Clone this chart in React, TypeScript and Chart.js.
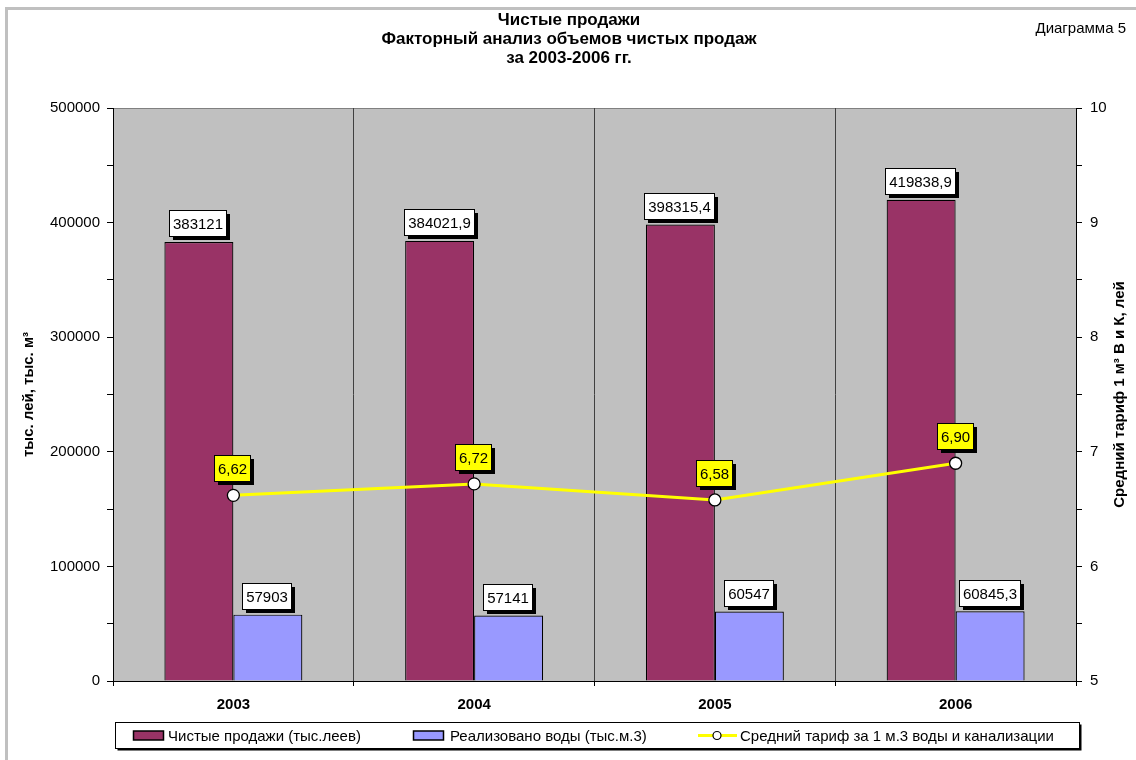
import React, { useEffect, useRef } from 'react';
import { Chart, registerables } from 'chart.js';

Chart.register(...registerables);

const years = ['2003', '2004', '2005', '2006'];
const netSales = [383121, 384021.9, 398315.4, 419838.9];
const waterSold = [57903, 57141, 60547, 60845.3];
const avgTariff = [6.62, 6.72, 6.58, 6.9];

const seriesNames = [
  'Чистые продажи (тыс.леев)',
  'Реализовано воды (тыс.м.3)',
  'Средний тариф за 1 м.3 воды и канализации',
];
const titleLines = [
  'Чистые продажи',
  'Факторный анализ объемов чистых продаж',
  'за 2003-2006 гг.',
];
const diagramLabel = 'Диаграмма 5';
const leftAxisTitle = 'тыс. лей, тыс. м³';
const rightAxisTitle = 'Средний тариф 1 м³ В и К, лей';

const leftMin = 0;
const leftMax = 500000;
const leftStep = 50000;
const leftLabelStep = 100000;
const rightMin = 5;
const rightMax = 10;
const rightStep = 0.5;

const FONT = '"Liberation Sans", Arial, Helvetica, sans-serif';
const PURPLE = '#993366';
const BLUE = '#9999FF';
const YELLOW = '#FFFF00';

function fmt(v: number, digits: number): string {
  if (digits === 0) {
    return Number.isInteger(v) ? String(v) : v.toFixed(1).replace('.', ',');
  }
  return v.toFixed(digits).replace('.', ',');
}

function drawBox(ctx: CanvasRenderingContext2D, text: string, cx: number, bottom: number, fill: string) {
  ctx.save();
  ctx.font = `15px ${FONT}`;
  const w = Math.round(ctx.measureText(text).width + 7);
  const h = 26;
  const x = Math.round(cx - w / 2 - 1) + 0.5;
  const y = Math.round(bottom - h) + 0.5;
  ctx.fillStyle = '#000';
  ctx.fillRect(x + 3.5, y + 3.5, w, h);
  ctx.fillStyle = fill;
  ctx.fillRect(x, y, w, h);
  ctx.strokeStyle = '#000';
  ctx.lineWidth = 1;
  ctx.strokeRect(x, y, w, h);
  ctx.fillStyle = '#000';
  ctx.textAlign = 'center';
  ctx.textBaseline = 'middle';
  ctx.fillText(text, x + w / 2, y + h / 2 + 1);
  ctx.restore();
}

const decorPlugin = {
  id: 'decor',
  beforeDraw(chart: any) {
    const ctx: CanvasRenderingContext2D = chart.ctx;
    const a = chart.chartArea;
    ctx.save();
    ctx.fillStyle = '#fff';
    ctx.fillRect(0, 0, chart.width, chart.height);
    // outer frame
    ctx.strokeStyle = '#c0c0c0';
    ctx.lineWidth = 3;
    ctx.strokeRect(6.5, 8.5, chart.width + 10, chart.height + 10);
    // plot area
    ctx.fillStyle = '#c0c0c0';
    ctx.fillRect(a.left, a.top, a.right - a.left, a.bottom - a.top);
    ctx.strokeStyle = '#808080';
    ctx.lineWidth = 1;
    ctx.beginPath();
    ctx.moveTo(a.left, Math.round(a.top) + 0.5);
    ctx.lineTo(a.right, Math.round(a.top) + 0.5);
    ctx.stroke();
    ctx.restore();
  },
  afterDraw(chart: any) {
    const ctx: CanvasRenderingContext2D = chart.ctx;
    const a = chart.chartArea;
    ctx.save();
    ctx.fillStyle = '#000';
    // title
    ctx.font = `bold 17px ${FONT}`;
    ctx.textAlign = 'center';
    ctx.textBaseline = 'middle';
    titleLines.forEach((t, i) => ctx.fillText(t, 569, 20 + i * 19));
    // diagram label
    ctx.font = `15px ${FONT}`;
    ctx.textAlign = 'right';
    ctx.fillText(diagramLabel, 1126, 29);
    // axis titles
    ctx.font = `bold 15px ${FONT}`;
    ctx.textAlign = 'center';
    ctx.save();
    ctx.translate(29, (a.top + a.bottom) / 2);
    ctx.rotate(-Math.PI / 2);
    ctx.fillText(leftAxisTitle, 0, 0);
    ctx.restore();
    ctx.save();
    ctx.translate(1120, (a.top + a.bottom) / 2);
    ctx.rotate(-Math.PI / 2);
    ctx.fillText(rightAxisTitle, 0, 0);
    ctx.restore();

    // legend
    const lx = 115.5, ly = 722.5, lw = 964, lh = 26;
    ctx.fillStyle = '#000';
    ctx.fillRect(lx + 2, ly + 2, lw, lh);
    ctx.fillStyle = '#fff';
    ctx.fillRect(lx, ly, lw, lh);
    ctx.strokeStyle = '#000';
    ctx.lineWidth = 1;
    ctx.strokeRect(lx, ly, lw, lh);
    const cy = ly + lh / 2;
    ctx.font = `15px ${FONT}`;
    ctx.textAlign = 'left';
    ctx.textBaseline = 'middle';
    const swatch = (x: number, color: string) => {
      ctx.fillStyle = color;
      ctx.fillRect(x + 0.5, cy - 4.5, 30, 9);
      ctx.strokeStyle = '#000';
      ctx.lineWidth = 1.5;
      ctx.strokeRect(x + 0.5, cy - 4.5, 30, 9);
    };
    swatch(133, PURPLE);
    ctx.fillStyle = '#000';
    ctx.fillText(seriesNames[0], 168, cy + 1);
    swatch(413, BLUE);
    ctx.fillStyle = '#000';
    ctx.fillText(seriesNames[1], 450, cy + 1);
    ctx.strokeStyle = YELLOW;
    ctx.lineWidth = 3;
    ctx.beginPath();
    ctx.moveTo(698, cy);
    ctx.lineTo(737, cy);
    ctx.stroke();
    ctx.beginPath();
    ctx.arc(717, cy, 4, 0, Math.PI * 2);
    ctx.fillStyle = '#fff';
    ctx.fill();
    ctx.strokeStyle = '#000';
    ctx.lineWidth = 1.2;
    ctx.stroke();
    ctx.fillStyle = '#000';
    ctx.fillText(seriesNames[2], 740, cy + 1);
    ctx.restore();
  },
  afterDatasetsDraw(chart: any) {
    const ctx: CanvasRenderingContext2D = chart.ctx;
    const m0 = chart.getDatasetMeta(0);
    const m1 = chart.getDatasetMeta(1);
    const m2 = chart.getDatasetMeta(2);
    m0.data.forEach((el: any, i: number) => drawBox(ctx, fmt(netSales[i], 0), el.x, el.y - 5.5, '#fff'));
    m1.data.forEach((el: any, i: number) => drawBox(ctx, fmt(waterSold[i], 0), el.x, el.y - 5.5, '#fff'));
    m2.data.forEach((el: any, i: number) => drawBox(ctx, fmt(avgTariff[i], 2), el.x, el.y - 14, YELLOW));
  },
};

export default function App() {
  const ref = useRef<HTMLCanvasElement | null>(null);
  useEffect(() => {
    if (!ref.current) return;
    const chart = new Chart(ref.current, {
      type: 'bar',
      data: {
        labels: years,
        datasets: [
          {
            type: 'bar',
            label: seriesNames[0],
            data: netSales,
            backgroundColor: PURPLE,
            borderColor: '#000',
            borderWidth: 1.2,
            yAxisID: 'y',
            order: 1,
            categoryPercentage: 0.573,
            barPercentage: 1,
          },
          {
            type: 'bar',
            label: seriesNames[1],
            data: waterSold,
            backgroundColor: BLUE,
            borderColor: '#000',
            borderWidth: 1.2,
            yAxisID: 'y',
            order: 1,
            categoryPercentage: 0.573,
            barPercentage: 1,
          },
          {
            type: 'line',
            label: seriesNames[2],
            data: avgTariff,
            borderColor: YELLOW,
            borderWidth: 3,
            pointRadius: 6,
            pointBackgroundColor: '#fff',
            pointBorderColor: '#000',
            pointBorderWidth: 1.3,
            tension: 0,
            yAxisID: 'y1',
            order: 0,
          },
        ],
      } as any,
      options: {
        responsive: false,
        animation: false,
        devicePixelRatio: 1,
        layout: { padding: { top: 108, left: 0, right: 0, bottom: 39 } },
        plugins: {
          legend: { display: false },
          title: { display: false },
          tooltip: { enabled: false },
        },
        scales: {
          x: {
            offset: true,
            grid: {
              offset: true,
              color: '#404040',
              lineWidth: 1,
              drawOnChartArea: true,
              drawTicks: true,
              tickLength: 5,
              tickColor: '#000',
            },
            border: { color: '#000', width: 1 },
            ticks: {
              color: '#000',
              font: { family: FONT, size: 15, weight: 'bold' },
              padding: 10,
            },
            afterFit: (s: any) => { s.height = 40; },
          },
          y: {
            position: 'left',
            min: leftMin,
            max: leftMax,
            grid: { drawOnChartArea: false, drawTicks: true, tickLength: 6, color: '#000' },
            border: { color: '#000', width: 1 },
            ticks: {
              stepSize: leftStep,
              autoSkip: false,
              color: '#000',
              padding: 7,
              font: { family: FONT, size: 15 },
              callback: (v: any) => (Number(v) % leftLabelStep === 0 ? String(v) : ''),
            },
            afterFit: (s: any) => { s.width = 113; },
          },
          y1: {
            position: 'right',
            min: rightMin,
            max: rightMax,
            grid: { drawOnChartArea: false, drawTicks: true, tickLength: 6, color: '#000' },
            border: { color: '#000', width: 1 },
            ticks: {
              stepSize: rightStep,
              autoSkip: false,
              color: '#000',
              padding: 8,
              font: { family: FONT, size: 15 },
              callback: (v: any) => (Number.isInteger(Number(v)) ? String(v) : ''),
            },
            afterFit: (s: any) => { s.width = 60; },
          },
        },
      } as any,
      plugins: [decorPlugin],
    });
    return () => chart.destroy();
  }, []);
  return (
    <div style={{ position: 'fixed', left: 0, top: 0, width: 1136, height: 760 }}>
      <canvas ref={ref} width={1136} height={760} style={{ display: 'block', width: 1136, height: 760 }} />
    </div>
  );
}
